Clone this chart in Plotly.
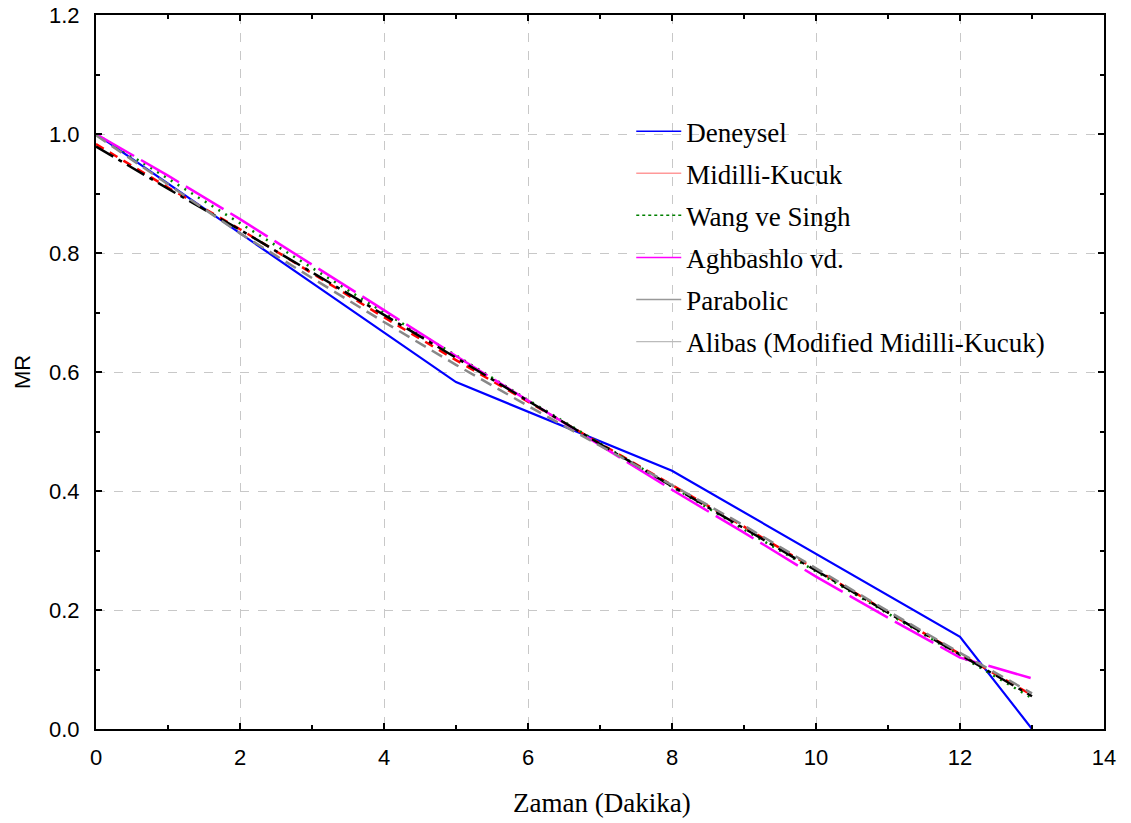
import plotly.graph_objects as go

# ---- data ----
t_exp = [0, 5, 8, 12, 13]
mr_exp = [1.0, 0.583, 0.434, 0.155, 0.0]

t_model = [0, 1, 2, 3, 4, 5, 6, 7, 8, 9, 10, 11, 12, 13]
mr_midilli = [0.983, 0.910, 0.840, 0.766, 0.692, 0.620, 0.550, 0.480, 0.410, 0.340, 0.268, 0.196, 0.126, 0.057]
mr_wang = [1.000, 0.925, 0.850, 0.774, 0.700, 0.628, 0.553, 0.480, 0.407, 0.335, 0.265, 0.194, 0.124, 0.052]
mr_aghbashlo = [1.000, 0.930, 0.857, 0.781, 0.704, 0.627, 0.552, 0.478, 0.402, 0.330, 0.256, 0.187, 0.120, 0.085]
mr_parabolic = [0.979, 0.908, 0.839, 0.768, 0.696, 0.624, 0.551, 0.479, 0.408, 0.337, 0.266, 0.195, 0.125, 0.055]
mr_alibas = [0.998, 0.915, 0.833, 0.758, 0.684, 0.612, 0.543, 0.476, 0.410, 0.342, 0.270, 0.198, 0.128, 0.060]

names = ["Deneysel", "Midilli-Kucuk", "Wang ve Singh", "Aghbashlo vd.", "Parabolic",
         "Alibas (Modified Midilli-Kucuk)"]

x_ticks = [0, 2, 4, 6, 8, 10, 12, 14]
y_ticks = [0.0, 0.2, 0.4, 0.6, 0.8, 1.0, 1.2]

fig = go.Figure()

# plotted lines (no legend)
plot_styles = [
    (t_exp, mr_exp, dict(color="#0000ff", width=2.2, dash="solid")),
    (t_model, mr_midilli, dict(color="#ff0000", width=2.5, dash="9px,7px")),
    (t_model, mr_wang, dict(color="#008000", width=2.5, dash="2px,6px")),
    (t_model, mr_aghbashlo, dict(color="#ff00ff", width=2.5, dash="44px,8px")),
    (t_model, mr_parabolic, dict(color="#000000", width=2.5, dash="20px,6px,4px,6px")),
    (t_model, mr_alibas, dict(color="#888888", width=2.5, dash="12px,7px")),
]
for (xs, ys, ln) in plot_styles:
    fig.add_trace(go.Scatter(x=xs, y=ys, mode="lines", line=ln, showlegend=False,
                             hoverinfo="skip"))

# legend entries (thin samples)
legend_styles = [
    dict(color="#0000ff", width=1.5, dash="solid"),
    dict(color="#ff9999", width=1.5, dash="solid"),
    dict(color="#008000", width=1.5, dash="dot"),
    dict(color="#ff00ff", width=1.5, dash="solid"),
    dict(color="#999999", width=1.5, dash="solid"),
    dict(color="#bbbbbb", width=1.2, dash="solid"),
]
for i, (nm, ln) in enumerate(zip(names, legend_styles)):
    fig.add_trace(go.Scatter(x=[None], y=[None], mode="lines", line=ln, name=nm,
                             legendgroup=f"g{i}", showlegend=True))

axis_common = dict(
    showline=True, linecolor="black", linewidth=2, mirror="ticks",
    ticks="inside", ticklen=6, tickwidth=1.5, tickcolor="black",
    showgrid=True, gridcolor="#c8c8c8", gridwidth=1, griddash="dash",
    zeroline=False, automargin=False,
    tickfont=dict(family="Arial, Liberation Sans", size=22, color="black"),
)

fig.update_xaxes(
    range=[0, 14], tickvals=x_ticks, ticktext=[str(v) for v in x_ticks],
    minor=dict(ticks="inside", ticklen=4, tickwidth=1.5, tickcolor="black", dtick=1, showgrid=False),
    ticklabelstandoff=8,
    **axis_common,
)
fig.update_yaxes(
    range=[0, 1.2], tickvals=y_ticks, ticktext=[f"{v:.1f}" for v in y_ticks],
    minor=dict(ticks="inside", ticklen=4, tickwidth=1.5, tickcolor="black", dtick=0.1, showgrid=False),
    ticklabelstandoff=10,
    title=dict(text="MR", font=dict(family="Arial, Liberation Sans", size=22, color="black"), standoff=12),
    **axis_common,
)

fig.add_annotation(
    text="Zaman (Dakika)", xref="paper", yref="paper", x=0.502, y=-0.1036,
    xanchor="center", yanchor="middle", showarrow=False,
    font=dict(family="Liberation Serif, Times New Roman", size=27, color="black"),
)

fig.update_layout(
    width=1131, height=823, autosize=False,
    margin=dict(l=96, r=27, t=15, b=94),
    paper_bgcolor="white", plot_bgcolor="white",
    legend=dict(
        x=0.531, y=0.871, xanchor="left", yanchor="top",
        bgcolor="rgba(0,0,0,0)", borderwidth=0,
        font=dict(family="Liberation Serif, Times New Roman", size=27, color="black"),
        tracegroupgap=4, itemwidth=45,
    ),
)

fig.write_html("out.html")
